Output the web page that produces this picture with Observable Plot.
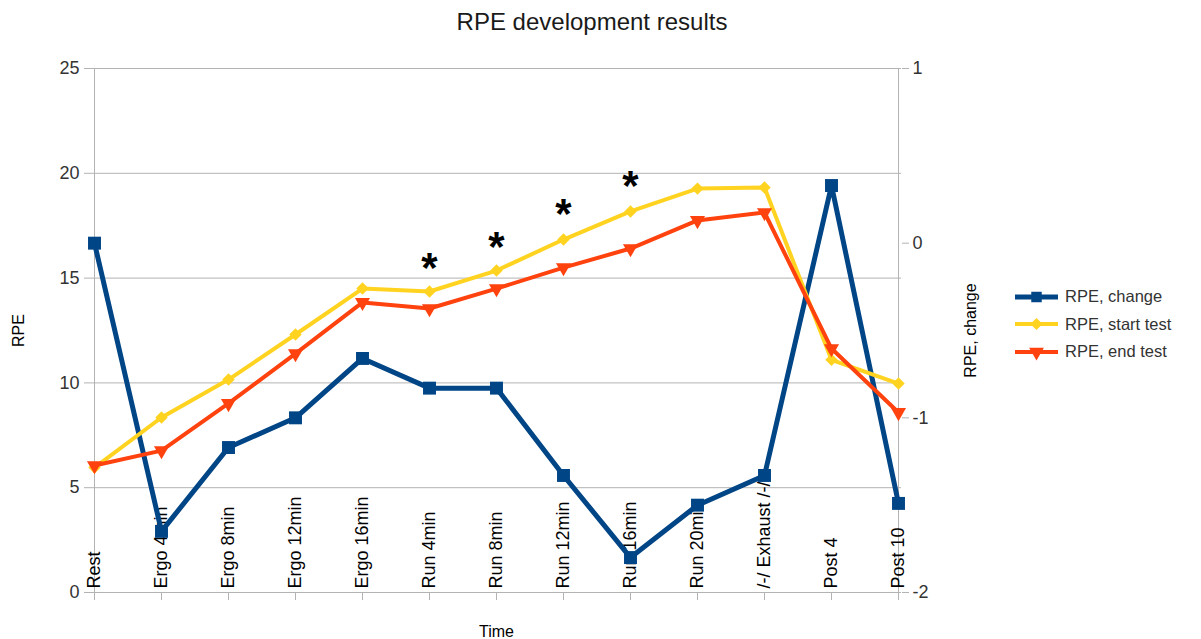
<!DOCTYPE html>
<html><head><meta charset="utf-8">
<script src="https://cdn.jsdelivr.net/npm/d3@7"></script>
<script src="https://cdn.jsdelivr.net/npm/@observablehq/plot@0.6"></script>
<style>
body{margin:0;background:#fff;font-family:"Liberation Sans",Arial,sans-serif;}
#wrap{position:relative;width:1201px;height:639px;overflow:hidden;}
#title{position:absolute;left:0;width:1184px;top:8px;line-height:28px;text-align:center;font-size:24px;color:#1a1a1a;}
#legend{position:absolute;left:1013px;top:283px;font-size:16.5px;color:#333;}
.row{display:flex;align-items:center;height:27.5px;}
.row svg{margin-right:7px;}
</style></head><body>
<div id="wrap"><div id="chart"></div><div id="title">RPE development results</div><div id="legend"></div></div>
<script>
const categories = ["Rest","Ergo 4min","Ergo 8min","Ergo 12min","Ergo 16min","Run 4min","Run 8min","Run 12min","Run 16min","Run 20min","/-/ Exhaust /-/","Post 4","Post 10"];
const rpeChange = [0, -1.65, -1.17, -1.0, -0.66, -0.83, -0.83, -1.33, -1.80, -1.50, -1.33, 0.33, -1.49];
const rpeStart = [5.96, 8.35, 10.16, 12.31, 14.5, 14.36, 15.36, 16.84, 18.18, 19.27, 19.32, 11.1, 9.97];
const rpeEnd = [6.06, 6.77, 9.02, 11.4, 13.84, 13.55, 14.5, 15.5, 16.41, 17.75, 18.13, 11.64, 8.59];
const leftTicks = [0, 5, 10, 15, 20, 25];
const rightTicks = [1, 0, -1, -2];
const starCategories = ["Run 4min","Run 8min","Run 12min","Run 16min"];
const starValues = [15.84, 16.84, 18.42, 19.75];
const seriesNames = ["RPE, change","RPE, start test","RPE, end test"];
const colors = ["#004586","#ffd320","#ff420e"];

const rightMin = -2, rightMax = 1, leftMax = 25;
const toLeft = v => (v - rightMin) * leftMax / (rightMax - rightMin);
const toRight = v => Math.round(v * (rightMax - rightMin) / leftMax + rightMin);

const changeData = categories.map((c, i) => ({cat: c, v: toLeft(rpeChange[i])}));
const startData = categories.map((c, i) => ({cat: c, v: rpeStart[i]}));
const endData = categories.map((c, i) => ({cat: c, v: rpeEnd[i]}));
const starData = starCategories.map((c, i) => ({cat: c, v: starValues[i]}));

const font = "Liberation Sans, Arial, sans-serif";
const chart = Plot.plot({
  width: 1201, height: 639,
  marginLeft: 91, marginRight: 300, marginTop: 68, marginBottom: 47,
  x: {type: "point", domain: categories, padding: 0, axis: null},
  y: {domain: [0, 25], axis: null},
  style: {fontFamily: font, fontSize: "16px", color: "#333", background: "#fff"},
  marks: [
    Plot.ruleY(leftTicks, {stroke: "#b3b3b3", strokeWidth: 1}),
    Plot.ruleX([categories[0], categories[categories.length - 1]], {stroke: "#b3b3b3", strokeWidth: 1}),
    Plot.axisY({anchor: "left", ticks: leftTicks, tickSize: 7, tickPadding: 5, stroke: "#b3b3b3", fill: "#333", fontSize: 18, label: null, tickFormat: d => String(d)}),
    Plot.axisY(rightTicks.map(toLeft), {anchor: "right", tickSize: 7, tickPadding: 4, stroke: "#b3b3b3", fill: "#333", fontSize: 18, label: null, tickFormat: d => String(toRight(d))}),
    Plot.axisX({tickSize: 8, stroke: "#b3b3b3", tickFormat: () => "", label: null}),
    Plot.text(categories, {x: d => d, y: 0, text: d => d, rotate: -90, textAnchor: "start", dy: -4, fontSize: 18, fill: "#000"}),
    Plot.text(["RPE"], {frameAnchor: "left", dx: -73, rotate: -90, textAnchor: "middle", fontSize: 16, fill: "#000"}),
    Plot.text(["RPE, change"], {frameAnchor: "right", dx: 69, rotate: -90, textAnchor: "middle", fontSize: 16, fill: "#000"}),
    Plot.text(["Time"], {frameAnchor: "bottom", dy: 44, fontSize: 16, fill: "#000"}),
    Plot.line(changeData, {x: "cat", y: "v", stroke: colors[0], strokeWidth: 5}),
    Plot.dot(changeData, {x: "cat", y: "v", symbol: "square", r: 7.3, fill: colors[0], stroke: "none"}),
    Plot.line(startData, {x: "cat", y: "v", stroke: colors[1], strokeWidth: 4}),
    Plot.dot(startData, {x: "cat", y: "v", symbol: "diamond2", r: 5.6, fill: colors[1], stroke: "none"}),
    Plot.line(endData, {x: "cat", y: "v", stroke: colors[2], strokeWidth: 4}),
    Plot.dot(endData, {x: "cat", y: "v", symbol: "triangle", rotate: 180, r: 5.6, fill: colors[2], stroke: "none"}),
    Plot.text(starData, {x: "cat", y: "v", text: () => "*", fontSize: 42, fontWeight: "bold", fill: "#000", dy: 8})
  ]
});
document.getElementById("chart").appendChild(chart);

// legend
const legend = d3.select("#legend");
const symbols = [d3.symbolSquare, d3.symbolDiamond2, d3.symbolTriangle];
const sizes = [110, 95, 95];
seriesNames.forEach((name, i) => {
  const row = legend.append("div").attr("class", "row");
  const svg = row.append("svg").attr("width", 45).attr("height", 18);
  svg.append("line").attr("x1", 2).attr("x2", 45).attr("y1", 9).attr("y2", 9)
    .attr("stroke", colors[i]).attr("stroke-width", i === 0 ? 5 : 4);
  svg.append("path").attr("d", d3.symbol(symbols[i], sizes[i])())
    .attr("transform", `translate(23.5,9)${i === 2 ? " rotate(180)" : ""}`).attr("fill", colors[i]);
  row.append("span").text(name);
});
</script>
</body></html>
